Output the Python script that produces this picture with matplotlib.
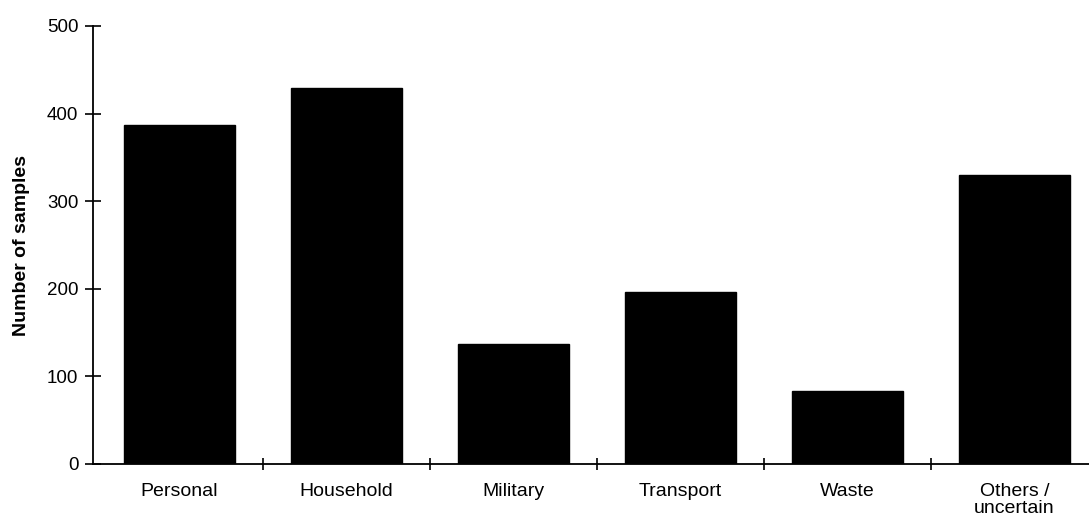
import matplotlib
matplotlib.use("Agg")
import matplotlib.pyplot as plt
import numpy as np

categories = ["Personal", "Household", "Military", "Transport", "Waste", "Others /\nuncertain"]
values = [387, 429, 137, 196, 83, 330]
yticks = [0, 100, 200, 300, 400, 500]

plt.rcParams['font.family'] = ['Liberation Sans', 'DejaVu Sans']

fig = plt.figure(figsize=(10.89, 5.22), dpi=100)
ax = fig.add_axes([93/1089, 1 - 464/522, 1 - 93/1089, (464 - 26)/522])

x = np.arange(len(categories))
ax.bar(x, values, width=0.67, color="black", edgecolor="black")

ax.set_xlim(-0.518, 5.446)
ax.set_ylim(0, 500)

for s in ["top", "right"]:
    ax.spines[s].set_visible(False)
for s in ["left", "bottom"]:
    ax.spines[s].set_linewidth(1.3)

ax.set_yticks(yticks)
ax.set_yticklabels([str(v) for v in yticks], fontsize=13.5)
ax.tick_params(axis="y", direction="inout", length=11, width=1.2, pad=5)

ax.set_xticks(x[:-1] + 0.5)
ax.set_xticklabels([])
ax.tick_params(axis="x", direction="inout", length=9, width=1.2)
for i, c in enumerate(categories):
    ax.text(i, -22, c, ha="center", va="top", fontsize=14,
            transform=ax.transData, linespacing=1.0)

ax.set_ylabel("Number of samples", fontsize=14, fontweight="bold", labelpad=12)

fig.savefig("out.png", dpi=100)
